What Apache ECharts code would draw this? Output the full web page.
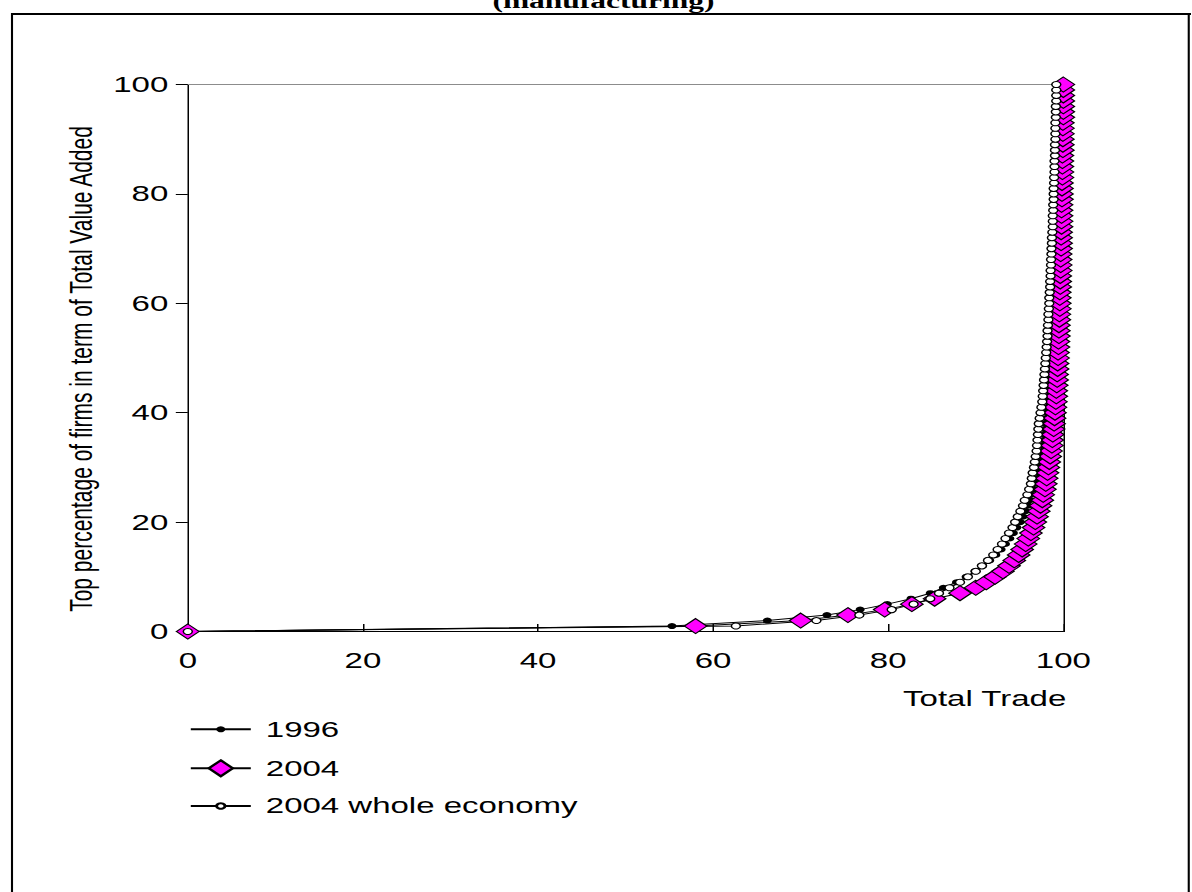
<!DOCTYPE html>
<html>
<head>
<meta charset="utf-8">
<script src="https://cdn.jsdelivr.net/npm/echarts@6/dist/echarts.min.js"></script>
<style>
  html, body { margin: 0; padding: 0; background: #fff; overflow: hidden; }
  #wrap { width: 1192px; height: 892px; overflow: hidden; position: relative; }
  /* the chart is laid out narrow and widened horizontally */
  #chart { width: 794.667px; height: 892px; transform: scaleX(1.5); transform-origin: 0 0; }
</style>
</head>
<body>
<div id="wrap"><div id="chart"></div></div>
<script>
// Top percentage of firms (ranked by value added)
const firmShare = [
  0, 1, 2, 3, 4, 5, 6, 7, 8, 9,
  10, 11, 12, 13, 14, 15, 16, 17, 18, 19,
  20, 21, 22, 23, 24, 25, 26, 27, 28, 29,
  30, 31, 32, 33, 34, 35, 36, 37, 38, 39,
  40, 41, 42, 43, 44, 45, 46, 47, 48, 49,
  50, 51, 52, 53, 54, 55, 56, 57, 58, 59,
  60, 61, 62, 63, 64, 65, 66, 67, 68, 69,
  70, 71, 72, 73, 74, 75, 76, 77, 78, 79,
  80, 81, 82, 83, 84, 85, 86, 87, 88, 89,
  90, 91, 92, 93, 94, 95, 96, 97, 98, 99,
  100
];

// Share of total trade (%) accounted for by those firms
const trade1996 = [
  0, 55.3, 66.2, 73.0, 76.8, 79.9, 82.6, 84.8, 86.3, 87.8,
  88.9, 89.9, 90.8, 91.6, 92.3, 92.9, 93.4, 93.9, 94.3, 94.7,
  95.1, 95.4, 95.7, 96.0, 96.2, 96.4, 96.6, 96.8, 97.0, 97.1,
  97.2, 97.3, 97.4, 97.5, 97.6, 97.7, 97.8, 97.85, 97.9, 98.0,
  98.05, 98.1, 98.15, 98.2, 98.25, 98.3, 98.35, 98.4, 98.45, 98.5,
  98.55, 98.6, 98.65, 98.7, 98.7, 98.75, 98.8, 98.8, 98.85, 98.9,
  98.9, 98.95, 99.0, 99.0, 99.05, 99.05, 99.1, 99.1, 99.15, 99.15,
  99.2, 99.2, 99.25, 99.25, 99.3, 99.3, 99.3, 99.35, 99.35, 99.4,
  99.4, 99.4, 99.45, 99.45, 99.5, 99.5, 99.5, 99.55, 99.55, 99.6,
  99.6, 99.6, 99.65, 99.65, 99.7, 99.7, 99.75, 99.8, 99.85, 99.9,
  100
];

const trade2004 = [
  0, 58.0, 70.0, 75.4, 79.6, 82.7, 85.3, 88.2, 90.0, 91.2,
  92.2, 93.1, 93.8, 94.4, 94.9, 95.3, 95.7, 96.0, 96.3, 96.6,
  96.8, 97.0, 97.2, 97.4, 97.6, 97.7, 97.9, 98.0, 98.1, 98.2,
  98.3, 98.4, 98.5, 98.6, 98.7, 98.75, 98.8, 98.9, 98.95, 99.0,
  99.05, 99.1, 99.15, 99.2, 99.2, 99.25, 99.3, 99.3, 99.35, 99.35,
  99.4, 99.4, 99.45, 99.45, 99.5, 99.5, 99.5, 99.55, 99.55, 99.6,
  99.6, 99.6, 99.6, 99.65, 99.65, 99.65, 99.7, 99.7, 99.7, 99.7,
  99.75, 99.75, 99.75, 99.75, 99.8, 99.8, 99.8, 99.8, 99.8, 99.85,
  99.85, 99.85, 99.85, 99.9, 99.9, 99.9, 99.9, 99.9, 99.95, 99.95,
  99.95, 99.95, 99.95, 99.95, 100, 100, 100, 100, 100, 100,
  100
];

const trade2004Economy = [
  0, 62.6, 71.8, 76.7, 80.4, 82.9, 84.8, 85.8, 87.0, 88.2,
  89.1, 90.0, 90.7, 91.4, 92.0, 92.5, 93.0, 93.4, 93.8, 94.2,
  94.5, 94.8, 95.1, 95.4, 95.6, 95.9, 96.1, 96.3, 96.4, 96.5,
  96.65, 96.75, 96.85, 96.95, 97.0, 97.05, 97.1, 97.15, 97.2, 97.3,
  97.4, 97.5, 97.6, 97.65, 97.7, 97.75, 97.8, 97.85, 97.9, 97.95,
  98.0, 98.05, 98.1, 98.15, 98.2, 98.2, 98.25, 98.3, 98.3, 98.35,
  98.4, 98.4, 98.45, 98.5, 98.5, 98.55, 98.55, 98.6, 98.6, 98.65,
  98.65, 98.7, 98.7, 98.75, 98.8, 98.8, 98.8, 98.85, 98.85, 98.9,
  98.9, 98.9, 98.95, 98.95, 99.0, 99.0, 99.0, 99.05, 99.05, 99.05,
  99.1, 99.1, 99.1, 99.1, 99.15, 99.15, 99.15, 99.2, 99.2, 99.2,
  99.2
];

const seriesNames = ['1996', '2004', '2004 whole economy'];
const axisTicks = [0, 20, 40, 60, 80, 100];
const titleText = '(manufacturing)';
const xName = 'Total Trade';
const yName = 'Top percentage of firms in term of Total Value Added';

const pairs = xs => xs.map((x, i) => [x, firmShare[i]]);

const W = 794.667, H = 892;
const chart = echarts.init(document.getElementById('chart'), null, { renderer: 'svg', width: W, height: H });

const sans = '"Liberation Sans", Arial, Helvetica, sans-serif';
const txt = { color: '#000', fontFamily: sans, fontSize: 22 };

const legendBase = {
  left: 126.2, orient: 'vertical', padding: 0, itemWidth: 40,
  selectedMode: false,
  textStyle: Object.assign({ padding: [0, 0, 0, 5] }, txt)
};

chart.setOption({
  animation: false,
  backgroundColor: '#fff',
  grid: { left: 125.2, right: W - 708.87, top: 84.5, bottom: H - 631.5, containLabel: false },
  graphic: [
    { type: 'text', x: 402.3, y: 1, silent: true,
      style: { text: titleText, fill: '#000', font: 'bold 21px "Liberation Serif", "Times New Roman", serif',
               textAlign: 'center', textVerticalAlign: 'middle' } },
    { type: 'line', silent: true, shape: { x1: 8, y1: 14, x2: 794, y2: 14 }, style: { stroke: '#000', lineWidth: 2 } },
    { type: 'line', silent: true, shape: { x1: 8, y1: 13, x2: 8, y2: 900 }, style: { stroke: '#000', lineWidth: 1.4 } },
    { type: 'line', silent: true, shape: { x1: 792.5, y1: 13, x2: 792.5, y2: 900 }, style: { stroke: '#000', lineWidth: 1.4 } }
  ],
  legend: [
    Object.assign({ data: [seriesNames[0]], top: 718.3, itemHeight: 7.5 }, legendBase),
    Object.assign({ data: [seriesNames[1]], top: 757.3, itemHeight: 20 }, legendBase),
    Object.assign({ data: [seriesNames[2]], top: 795, itemHeight: 7 }, legendBase)
  ],
  xAxis: [
    {
      type: 'value', position: 'bottom', min: 0, max: 100, interval: 20,
      name: xName, nameLocation: 'end', nameGap: 2,
      nameTextStyle: Object.assign({ align: 'right', verticalAlign: 'top', padding: [56, 0, 0, 0] }, txt),
      axisLine: { show: true, onZero: false, lineStyle: { color: '#000', width: 1 } },
      axisTick: { show: true, inside: true, length: 7.5, lineStyle: { color: '#000', width: 1 } },
      axisLabel: Object.assign({ margin: 18, customValues: axisTicks }, txt),
      splitLine: { show: false }
    },
    {
      type: 'value', position: 'top', min: 0, max: 100, interval: 20,
      axisLine: { show: true, onZero: false, lineStyle: { color: '#8c8c8c', width: 1 } },
      axisTick: { show: false }, axisLabel: { show: false }, splitLine: { show: false }
    }
  ],
  yAxis: [
    {
      type: 'value', position: 'left', min: 0, max: 100, interval: 20,
      name: yName, nameLocation: 'middle', nameGap: 47, nameRotate: 90,
      nameTextStyle: Object.assign({}, txt, { fontSize: 21, padding: [0, 22, 0, 0] }),
      axisLine: { show: true, onZero: false, lineStyle: { color: '#000', width: 1 } },
      axisTick: { show: true, inside: false, length: 8, lineStyle: { color: '#000', width: 1 } },
      axisLabel: Object.assign({ margin: 13 }, txt),
      splitLine: { show: false }
    },
    {
      type: 'value', position: 'right', min: 0, max: 100, interval: 20,
      axisLine: { show: true, onZero: false, lineStyle: { color: '#000', width: 1 } },
      axisTick: { show: false }, axisLabel: { show: false }, splitLine: { show: false }
    }
  ],
  series: [
    {
      name: seriesNames[0], type: 'line', data: pairs(trade1996),
      symbol: 'circle', symbolSize: 6, showAllSymbol: true, silent: true,
      lineStyle: { color: '#000', width: 1 },
      itemStyle: { color: '#000', borderColor: '#000', borderWidth: 0 },
      emphasis: { disabled: true }
    },
    {
      name: seriesNames[1], type: 'line', data: pairs(trade2004),
      symbol: 'diamond', symbolSize: [15, 15], showAllSymbol: true, silent: true,
      lineStyle: { color: '#000', width: 1 },
      itemStyle: { color: '#ff00ff', borderColor: '#000', borderWidth: 1 },
      emphasis: { disabled: true }
    },
    {
      name: seriesNames[2], type: 'line', data: pairs(trade2004Economy),
      symbol: 'circle', symbolSize: 6, showAllSymbol: true, silent: true,
      lineStyle: { color: '#000', width: 1 },
      itemStyle: { color: '#ffffff', borderColor: '#000', borderWidth: 1 },
      emphasis: { disabled: true }
    }
  ]
});
</script>
</body>
</html>
